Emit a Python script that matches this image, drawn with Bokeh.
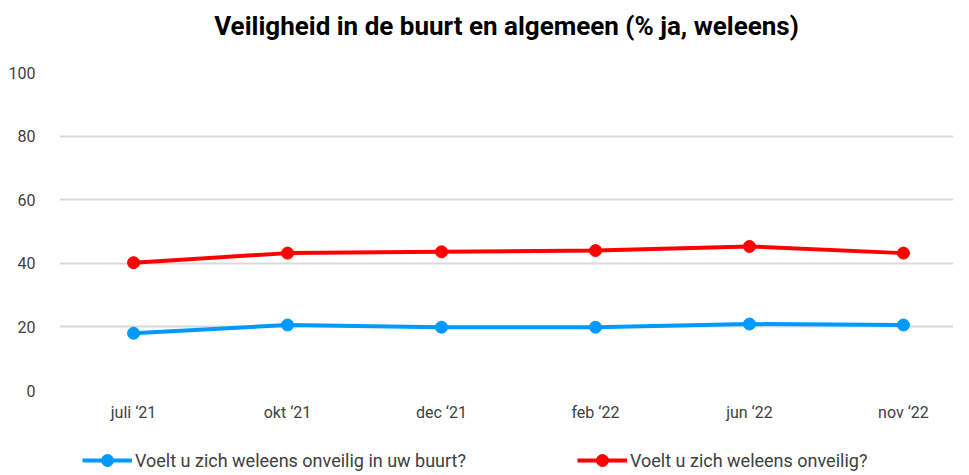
from bokeh.plotting import figure
from bokeh.models import Range1d, FixedTicker, Legend, LegendItem, ColumnDataSource, Label
from bokeh.layouts import column
from bokeh.embed import file_html
from bokeh.resources import INLINE

title_text = "Veiligheid in de buurt en algemeen (% ja, weleens)"
categories = ["juli \u201821", "okt \u201821", "dec \u201821", "feb \u201822", "jun \u201822", "nov \u201822"]
buurt = [18.0, 20.6, 19.9, 19.9, 20.9, 20.6]
algemeen = [40.2, 43.2, 43.6, 44.0, 45.3, 43.2]
series_names = ["Voelt u zich weleens onveilig in uw buurt?", "Voelt u zich weleens onveilig?"]
y_ticks = [0, 20, 40, 60, 80, 100]

FONT = "Roboto"
idx = list(range(len(categories)))
colors = ["#0099FF", "#FF0000"]
W = 953
LEFT = 59
NB = dict(min_border=0, min_border_left=0, min_border_right=0, min_border_top=0, min_border_bottom=0)

# title strip (its frame is aligned with the chart frame by the column layout)
tf = figure(width=W, height=60, output_backend="svg", toolbar_location=None,
            x_axis_location=None, y_axis_location=None,
            x_range=Range1d(LEFT, W), y_range=Range1d(0, 60), **NB)
tf.outline_line_color = None
tf.grid.grid_line_color = None
tf.add_layout(Label(x=506, y=35, text=title_text, text_align="center", text_baseline="middle",
                    text_font=FONT, text_font_size="26px", text_font_style="bold",
                    text_color="#000000"))

# main chart
p = figure(width=W, height=370, output_backend="svg", toolbar_location=None,
           x_range=Range1d(-0.481, 5.325), y_range=Range1d(0, 100),
           min_border_left=LEFT, min_border_right=0, min_border_top=12, min_border_bottom=40)
p.outline_line_color = None

src = ColumnDataSource(dict(x=idx, b=buurt, a=algemeen))
for col, c in zip(["b", "a"], colors):
    p.line("x", col, source=src, line_color=c, line_width=4)
    p.scatter("x", col, source=src, size=12, fill_color=c, line_color=c)

p.xgrid.grid_line_color = None
p.ygrid.grid_line_color = "#D9D9D9"
p.ygrid.grid_line_width = 2
p.yaxis.ticker = FixedTicker(ticks=y_ticks)
p.xaxis.ticker = FixedTicker(ticks=idx)
p.xaxis.major_label_overrides = {i: c for i, c in enumerate(categories)}
for ax in (p.xaxis[0], p.yaxis[0]):
    ax.axis_line_color = None
    ax.major_tick_line_color = None
    ax.minor_tick_line_color = None
    ax.major_label_text_font = FONT
    ax.major_label_text_font_size = "16px"
    ax.major_label_text_color = "#404040"
p.yaxis.major_label_standoff = 18
p.xaxis.major_label_standoff = 6

# legend strip (series drawn off-view, only their legend entries show)
lg = figure(width=W, height=45, output_backend="svg", toolbar_location=None,
            x_axis_location=None, y_axis_location=None,
            x_range=Range1d(0, 1), y_range=Range1d(-300, -200), **NB)
lg.outline_line_color = None
lg.grid.grid_line_color = None
items = []
for name, col, c in zip(series_names, ["b", "a"], colors):
    rl = lg.line("x", col, source=src, line_color=c, line_width=4)
    rs = lg.scatter("x", col, source=src, size=12, fill_color=c, line_color=c)
    items.append(LegendItem(label=name, renderers=[rl, rs]))
legend = Legend(items=items, orientation="horizontal", location=(82 - LEFT, 0),
                glyph_width=50, glyph_height=30, label_height=30, label_standoff=3, spacing=111,
                padding=0, margin=0, border_line_color=None, background_fill_alpha=0,
                label_text_font=FONT, label_text_font_size="18px", label_text_color="#404040")
lg.add_layout(legend, "center")

layout = column(tf, p, lg, spacing=0)
open("out.html", "w").write(file_html(layout, INLINE))
